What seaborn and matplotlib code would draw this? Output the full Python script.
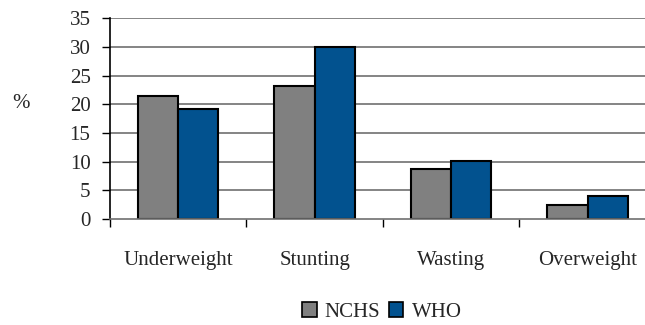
import pandas as pd
import matplotlib
matplotlib.use("Agg")
import matplotlib.pyplot as plt
import seaborn as sns

categories = ["Underweight", "Stunting", "Wasting", "Overweight"]
nchs = [21.5, 23.1, 8.7, 2.4]
who = [19.1, 30.0, 10.2, 4.0]

df = pd.DataFrame({"cat": categories, "NCHS": nchs, "WHO": who})
df_long = df.melt(id_vars="cat", var_name="ref", value_name="pct")

sns.set_style("white")
plt.rcParams["font.family"] = ["Liberation Serif", "DejaVu Serif"]

fig = plt.figure(figsize=(6.45, 3.25), dpi=100)
ax = fig.add_axes([0.1705, 0.326, 0.8465, 0.618])

for y in range(5, 40, 5):
    ax.axhline(y, color="#6f6f6f", lw=1.2, zorder=0)

sns.barplot(data=df_long, x="cat", y="pct", hue="ref", order=categories,
            palette={"NCHS": "#808080", "WHO": "#02528f"}, width=0.59,
            edgecolor="black", linewidth=1.5, saturation=1, ax=ax, zorder=2)

ax.set_ylim(0, 35)
ax.set_xlim(-0.5, 3.5)
ax.set_yticks(range(0, 40, 5))
ax.tick_params(axis="y", labelsize=15, length=6, width=1, color="black", pad=8, left=True)
ax.tick_params(axis="x", labelsize=15, length=0, pad=23)
ax.set_xticks([-0.5, 0.5, 1.5, 2.5], minor=True)
ax.tick_params(axis="x", which="minor", length=6, width=1, color="black", bottom=True)
ax.set_xlabel("")
ax.set_ylabel("")
ax.text(-0.163, 0.574, "%", transform=ax.transAxes, fontsize=15, ha="center", va="center")

for s in ["top", "right"]:
    ax.spines[s].set_visible(False)
ax.spines["left"].set_color("black")
ax.spines["left"].set_linewidth(1.2)
ax.spines["bottom"].set_color("#6f6f6f")
ax.spines["bottom"].set_linewidth(1.2)

ax.legend_.remove()
handles = [plt.Rectangle((0, 0), 1, 1, facecolor=c, edgecolor="black", lw=1.2)
           for c in ["#808080", "#02528f"]]
fig.legend(handles, ["NCHS", "WHO"], loc="center", bbox_to_anchor=(0.592, 0.04),
           ncol=2, frameon=False, fontsize=15, handlelength=0.7, handleheight=0.7,
           handletextpad=0.4, columnspacing=0.4)

fig.savefig("out.png", dpi=100)
